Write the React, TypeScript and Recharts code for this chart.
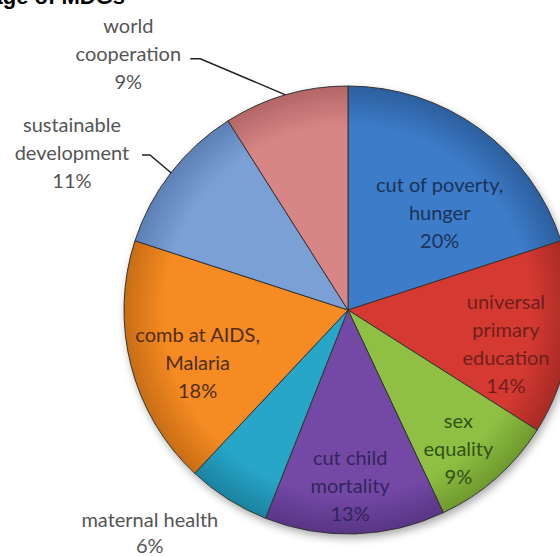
import React from "react";
import { PieChart, Pie, Cell } from "recharts";

const CATEGORIES = [
  "cut of poverty, hunger",
  "universal primary education",
  "sex equality",
  "cut child mortality",
  "maternal health",
  "comb at AIDS, Malaria",
  "sustainable development",
  "world cooperation",
];
const LABEL_LINES = [
  ["cut of poverty,", "hunger"],
  ["universal", "primary", "education"],
  ["sex", "equality"],
  ["cut child", "mortality"],
  ["maternal health"],
  ["comb at AIDS,", "Malaria"],
  ["sustainable", "development"],
  ["world", "cooperation"],
];
const VALUES = [20, 14, 9, 13, 6, 18, 11, 9];
const COLORS = ["#3d7cc9", "#d43a32", "#8fc043", "#7449a6", "#27a6c8", "#f58b22", "#7ba0d6", "#d88586"];
const RIM_COLORS = ["#2c5f9e", "#a82a24", "#6f9a2e", "#583585", "#1b82a0", "#c86d15", "#5c80b6", "#b36666"];
const TEXT_COLORS = ["#1a3358", "#6e1f1b", "#34501a", "#33245c", "#555555", "#4f2d0f", "#555555", "#555555"];

const data = CATEGORIES.map((name, i) => ({ name, value: VALUES[i], lines: LABEL_LINES[i] }));

const CX = 348;
const CY = 310;
const R = 224;
const FONT = "Lato, 'Open Sans', sans-serif";
const LINE_H = 28;
const RAD = Math.PI / 180;

// label placement: [clockwise shift from mid angle, radius factor, line height]
const PLACE: [number, number, number][] = [
  [7, 0.6, 28],
  [4.5, 0.72, 28],
  [2.8, 0.79, 28],
  [1.1, 0.78, 28],
  [9.3, 1.33, 26],
  [-4.6, 0.71, 28],
  [-8, 1.42, 28],
  [-24.3, 1.51, 28],
];

// leader line start (relative to label centre) for outside labels
const LEADERS: Record<number, [number, number, number]> = {
  6: [70, 3, 8],
  7: [62, 6, 10],
};

const SliceLabel = (props: any) => {
  const { cx, cy, midAngle, outerRadius, index, value } = props;
  const [dA, f, lh] = PLACE[index];
  const a = (midAngle - dA) * RAD;
  const x = cx + outerRadius * f * Math.cos(a);
  const y = cy - outerRadius * f * Math.sin(a);
  const lines = [...data[index].lines, `${value}%`];
  const y0 = y - ((lines.length - 1) * lh) / 2;
  const leader = LEADERS[index];
  let path = null;
  if (leader) {
    const ma = midAngle * RAD;
    const rx = cx + outerRadius * Math.cos(ma);
    const ry = cy - outerRadius * Math.sin(ma);
    const sx = x + leader[0];
    const sy = y + leader[1];
    path = (
      <polyline
        points={`${sx},${sy} ${sx + leader[2]},${sy} ${rx},${ry}`}
        fill="none"
        stroke="#222"
        strokeWidth={1.5}
      />
    );
  }
  return (
    <g>
      {path}
      <text
        x={x}
        y={y0}
        textAnchor="middle"
        fill={TEXT_COLORS[index]}
        fontFamily={FONT}
        fontSize={20}
      >
        {lines.map((l, i) => (
          <tspan key={i} x={x} y={y0 + i * lh} dominantBaseline="central">
            {l}
          </tspan>
        ))}
      </text>
    </g>
  );
};

export default function App() {
  return (
    <div style={{ position: "absolute", left: 0, top: 0, width: 560, height: 556, background: "#fff", overflow: "hidden" }}>
      <svg width={560} height={20} style={{ position: "absolute", left: 0, top: 0 }}>
        <text x={125} y={4} textAnchor="end" fontFamily="'Liberation Sans', Arial, sans-serif" fontWeight="bold" fontSize={22} fill="#000">
          Percentage of MDGs
        </text>
      </svg>
      <PieChart width={560} height={556} margin={{ top: 0, right: 0, bottom: 0, left: 0 }}>
        <defs>
          <filter id="pieShadow" x="-20%" y="-20%" width="140%" height="140%">
            <feDropShadow dx={2} dy={4} stdDeviation={4} floodColor="#000" floodOpacity={0.35} />
          </filter>
          {COLORS.map((c, i) => (
            <radialGradient key={i} id={`grad${i}`} gradientUnits="userSpaceOnUse" cx={CX} cy={CY} r={R}>
              <stop offset="0%" stopColor={c} />
              <stop offset="82%" stopColor={c} />
              <stop offset="100%" stopColor={RIM_COLORS[i]} />
            </radialGradient>
          ))}
        </defs>
        <Pie
          data={[{ value: 1 }]}
          dataKey="value"
          cx={CX}
          cy={CY}
          outerRadius={R}
          startAngle={90}
          endAngle={-270}
          fill="#ffffff"
          stroke="none"
          style={{ filter: "url(#pieShadow)" }}
          isAnimationActive={false}
        />
        <Pie
          data={data}
          dataKey="value"
          nameKey="name"
          cx={CX}
          cy={CY}
          outerRadius={R}
          startAngle={90}
          endAngle={-270}
          label={SliceLabel}
          labelLine={false}
          isAnimationActive={false}
        >
          {data.map((d, i) => (
            <Cell key={d.name} fill={`url(#grad${i})`} stroke="#333" strokeWidth={1} />
          ))}
        </Pie>
      </PieChart>
    </div>
  );
}
